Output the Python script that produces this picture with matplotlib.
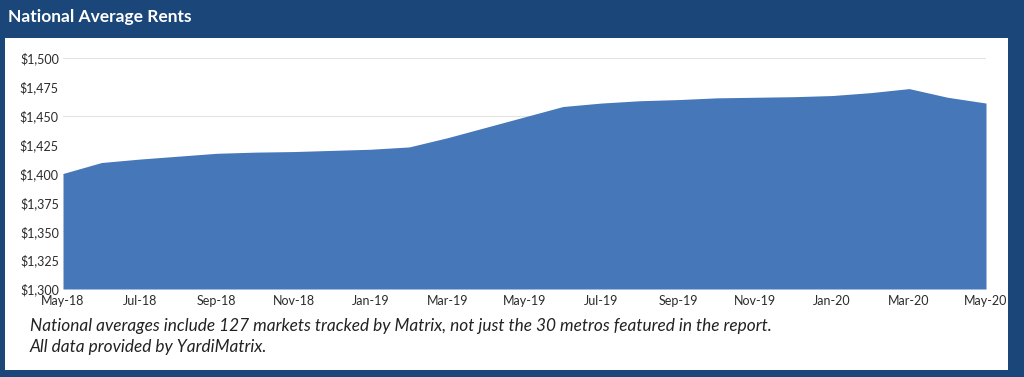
import numpy as np
import matplotlib.pyplot as plt
from matplotlib.patches import Rectangle
from matplotlib.ticker import FuncFormatter

months = ["May-18", "Jun-18", "Jul-18", "Aug-18", "Sep-18", "Oct-18", "Nov-18",
          "Dec-18", "Jan-19", "Feb-19", "Mar-19", "Apr-19", "May-19", "Jun-19",
          "Jul-19", "Aug-19", "Sep-19", "Oct-19", "Nov-19", "Dec-19", "Jan-20",
          "Feb-20", "Mar-20", "Apr-20", "May-20"]
rents = [1400, 1409.5, 1412.5, 1415, 1417.5, 1418.5, 1419, 1420, 1421, 1423,
         1431, 1440, 1449, 1458, 1461, 1463, 1464, 1465.5, 1466, 1466.5,
         1467.5, 1470, 1473.5, 1466, 1461]
y_ticks = [1300, 1325, 1350, 1375, 1400, 1425, 1450, 1475, 1500]
grid_levels = [1300, 1350, 1400, 1450, 1500]
note_lines = ["National averages include 127 markets tracked by Matrix, not just the 30 metros featured in the report.",
              "All data provided by YardiMatrix."]

navy = "#1b4679"
fill_col = "#4677b8"

plt.rcParams['font.family'] = ['Lato', 'DejaVu Sans']

fig = plt.figure(figsize=(10.24, 3.77), dpi=100)
fig.patch.set_facecolor(navy)
# white card behind the chart
fig.patches.append(Rectangle((5 / 1024, 7 / 377), 1003 / 1024, 332 / 377,
                             transform=fig.transFigure, facecolor="white",
                             edgecolor="none", zorder=-5))
fig.text(8 / 1024, 1 - 17 / 377, "National Average Rents", color="white",
         fontsize=12.5, fontweight="bold", va="center", ha="left")

ax = fig.add_axes([63 / 1024, 1 - 289 / 377, 923 / 1024, 231 / 377])
ax.set_facecolor("white")
x = np.arange(len(months))
ax.fill_between(x, 1300, rents, color=fill_col, linewidth=0, zorder=3)
for g in grid_levels:
    ax.axhline(g, color="#e3e3e3", linewidth=0.8, zorder=1)
ax.set_xlim(0, len(months) - 1)
ax.set_ylim(1300, 1500)
ax.set_yticks(y_ticks)
ax.yaxis.set_major_formatter(FuncFormatter(lambda v, p: "${:,.0f}".format(v)))
ax.set_xticks(x[::2])
ax.set_xticklabels(months[::2])
for s in ax.spines.values():
    s.set_visible(False)
ax.tick_params(length=0, labelsize=9, colors="#2b2b2b", pad=3)
ax.tick_params(axis="x", pad=4)

fig.text(30 / 1024, 1 - 326 / 377, note_lines[0], fontsize=12.4, style="italic",
         color="#222222", va="center")
fig.text(30 / 1024, 1 - 347 / 377, note_lines[1], fontsize=12.4, style="italic",
         color="#222222", va="center")

fig.savefig("out.png", dpi=100, facecolor=fig.get_facecolor())
